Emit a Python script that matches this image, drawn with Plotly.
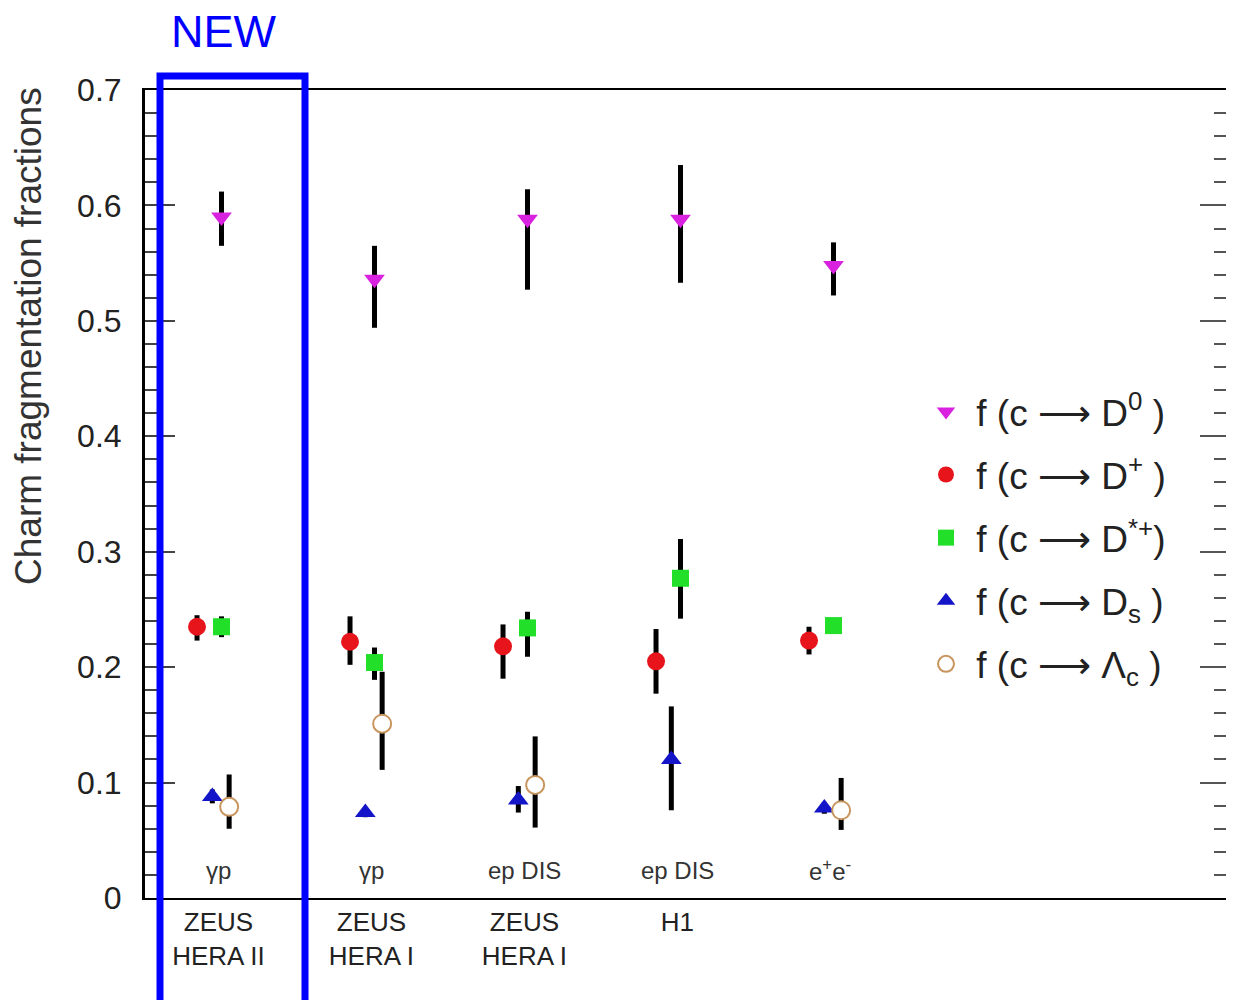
import plotly.graph_objects as go

# ---------------- data ----------------
categories = [1, 2, 3, 4, 5]
experiment_labels = ["ZEUS<br>HERA II", "ZEUS<br>HERA I", "ZEUS<br>HERA I", "H1", ""]
process_labels = ["γp", "γp", "ep DIS", "ep DIS", "e<sup>+</sup>e<sup>-</sup>"]

d0_val   = [0.590, 0.536, 0.588, 0.588, 0.548]
d0_plus  = [0.022, 0.029, 0.026, 0.047, 0.020]
d0_minus = [0.025, 0.042, 0.061, 0.055, 0.026]

dp_val   = [0.235, 0.222, 0.218, 0.205, 0.223]
dp_plus  = [0.010, 0.022, 0.019, 0.028, 0.012]
dp_minus = [0.012, 0.020, 0.028, 0.028, 0.012]

dst_val   = [0.235, 0.204, 0.234, 0.277, 0.236]
dst_plus  = [0.009, 0.013, 0.014, 0.034, 0.005]
dst_minus = [0.009, 0.015, 0.025, 0.035, 0.005]

ds_val   = [0.088, 0.074, 0.085, 0.120, 0.078]
ds_plus  = [0.006, 0.004, 0.012, 0.046, 0.005]
ds_minus = [0.006, 0.004, 0.011, 0.044, 0.005]

lc_val   = [0.079, 0.151, 0.098, None, 0.076]
lc_plus  = [0.028, 0.045, 0.042, None, 0.028]
lc_minus = [0.019, 0.040, 0.037, None, 0.017]

# ---------------- styles ----------------
series = [
    dict(name=" f (c ⟶ D<sup>0</sup> )", val=d0_val, p=d0_plus, m=d0_minus, off=0.02,
         marker=dict(symbol="triangle-down", size=18, color="#d822e0")),
    dict(name=" f (c ⟶ D<sup>+</sup> )", val=dp_val, p=dp_plus, m=dp_minus, off=-0.14,
         marker=dict(symbol="circle", size=18, color="#e8141c")),
    dict(name=" f (c ⟶ D<sup>*+</sup>)", val=dst_val, p=dst_plus, m=dst_minus, off=0.02,
         marker=dict(symbol="square", size=17, color="#22e02a")),
    dict(name=" f (c ⟶ D<sub>s</sub> )", val=ds_val, p=ds_plus, m=ds_minus, off=-0.04,
         marker=dict(symbol="triangle-up", size=18, color="#1414c8")),
    dict(name=" f (c ⟶ Λ<sub>c</sub> )", val=lc_val, p=lc_plus, m=lc_minus, off=0.07,
         marker=dict(symbol="circle", size=18, color="white",
                     line=dict(color="#c8955e", width=2))),
]

FONT = "Liberation Sans, Arial, DejaVu Sans, sans-serif"

# figure geometry (page body has an 8px margin)
W, H = 1218, 992
ML, MT, MB = 137, 82, 102
PW, PH = W - ML, H - MT - MB

fig = go.Figure()
for i, s in enumerate(series):
    fig.add_trace(go.Scatter(
        x=[c + s["off"] for c in categories],
        y=s["val"],
        mode="markers",
        name=s["name"],
        legendgroup=f"g{i}",
        marker=s["marker"],
        error_y=dict(type="data", symmetric=False, array=s["p"], arrayminus=s["m"],
                     color="black", thickness=5, width=0),
        cliponaxis=False,
    ))

# invisible trace so the right-side tick axis renders
fig.add_trace(go.Scatter(x=[categories[0]], y=[0], yaxis="y2", mode="markers",
                         marker=dict(opacity=0), showlegend=False, hoverinfo="skip"))

for c, lab in zip(categories, process_labels):
    fig.add_annotation(x=c, y=0.024, xref="x", yref="y", text=lab, showarrow=False,
                       font=dict(family=FONT, size=24, color="#333333"))

fig.add_annotation(x=(20 - ML) / PW, y=(MT + PH - 328) / PH, xref="paper", yref="paper",
                   xanchor="center", yanchor="middle",
                   text="Charm fragmentation fractions", showarrow=False, textangle=-90,
                   font=dict(family=FONT, size=37, color="#333333"))

fig.add_annotation(x=(216 - ML) / PW, y=(MT + PH - 24) / PH, xref="paper", yref="paper",
                   xanchor="center", yanchor="middle", borderpad=0,
                   text="NEW", showarrow=False, font=dict(family=FONT, size=45, color="#0000ff"))

fig.add_shape(type="rect", xref="paper", yref="paper",
              x0=(152 - ML) / PW, x1=(297 - ML) / PW,
              y0=-0.2, y1=(MT + PH - 68) / PH,
              line=dict(color="#0000ff", width=7), fillcolor="rgba(0,0,0,0)")

fig.update_layout(
    width=W, height=H,
    margin=dict(l=ML, r=0, t=MT, b=MB),
    paper_bgcolor="white", plot_bgcolor="white",
    font=dict(family=FONT, color="#222222"),
    showlegend=True,
    legend=dict(x=(918 - ML) / PW, y=0.64, xanchor="left", yanchor="top",
                bgcolor="rgba(0,0,0,0)", font=dict(family=FONT, size=37, color="#222222"),
                itemsizing="trace", tracegroupgap=12),
    xaxis=dict(range=[0.52, 0.52 + PW / 153], tickvals=categories[:4], ticktext=experiment_labels[:4],
               showline=True, linecolor="black", linewidth=2, mirror=True,
               ticks="", showgrid=False, zeroline=False,
               tickfont=dict(family=FONT, size=26, color="#222222")),
    yaxis=dict(range=[0, 0.7], dtick=0.1, ticks="inside", ticklen=30, tickwidth=2,
               tickcolor="#444444", showline=True, linecolor="black", linewidth=3,
               showgrid=False, zeroline=False, ticklabelstandoff=14,
               minor=dict(dtick=0.02, ticks="inside", ticklen=12, tickwidth=2, tickcolor="#444444"),
               tickfont=dict(family=FONT, size=32, color="#222222")),
    yaxis2=dict(range=[0, 0.7], overlaying="y", side="right", dtick=0.1, ticks="inside",
                ticklen=26, tickwidth=2, tickcolor="#555555", showticklabels=False,
                showline=False, showgrid=False, zeroline=False,
                minor=dict(dtick=0.02, ticks="inside", ticklen=12, tickwidth=2, tickcolor="#555555")),
)

fig.write_html("out.html")
